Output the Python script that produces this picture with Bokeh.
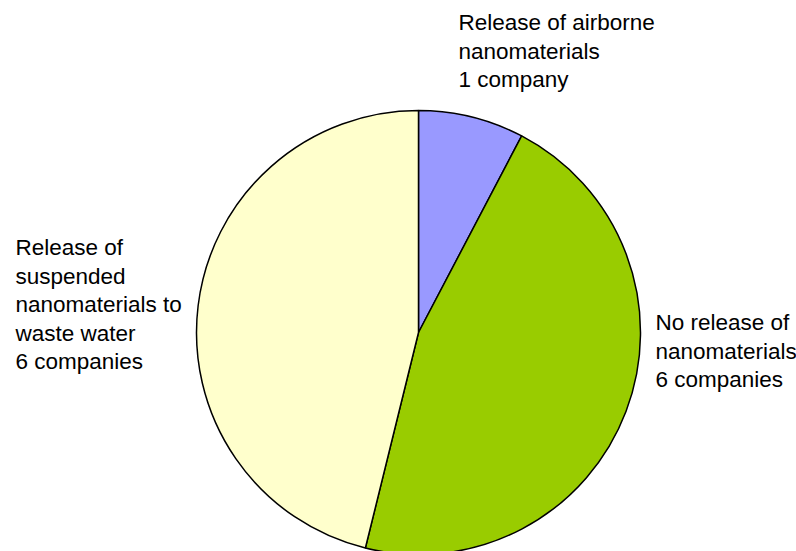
import math
from bokeh.plotting import figure
from bokeh.models import ColumnDataSource, Range1d
from bokeh.core.properties import value
from bokeh.embed import file_html
from bokeh.resources import INLINE

# Data
categories = ["Release of airborne nanomaterials",
              "No release of nanomaterials",
              "Release of suspended nanomaterials to waste water"]
values = [1, 6, 6]
colors = ["#9999FF", "#99CC00", "#FFFFCC"]
label_lines = [
    ["Release of airborne", "nanomaterials", "1 company"],
    ["No release of", "nanomaterials", "6 companies"],
    ["Release of", "suspended", "nanomaterials to", "waste water", "6 companies"],
]

W, H = 796, 551
p = figure(width=W, height=H, output_backend="svg", toolbar_location=None,
           x_range=Range1d(0, W), y_range=Range1d(0, H), min_border=0)
p.axis.visible = False
p.grid.visible = False
p.outline_line_color = None
p.background_fill_color = "white"
p.border_fill_color = "white"

def px(x):
    return x

def py(y):
    return H - y

total = sum(values)
starts, ends = [], []
cum = 0
for v in values:
    starts.append(math.pi / 2 - 2 * math.pi * cum / total)
    cum += v
    ends.append(math.pi / 2 - 2 * math.pi * cum / total)

src = ColumnDataSource(dict(start=starts, end=ends, color=colors, cat=categories))
p.wedge(x=px(418), y=py(332), radius=222, start_angle="start", end_angle="end",
        direction="clock", fill_color="color", line_color="black", line_width=1.5,
        source=src)

# label anchor positions (page pixels: left x, first baseline y)
anchors = [(458, 22), (655, 322), (15, 247)]
spacing = 28.5
tx, ty, tt = [], [], []
for (ax, ay), lines in zip(anchors, label_lines):
    for i, line in enumerate(lines):
        tx.append(px(ax))
        ty.append(py(ay + i * spacing))
        tt.append(line)

p.text(x=tx, y=ty, text=tt, text_font=value("Liberation Sans"),
       text_font_size="22.5px", text_color="black",
       text_baseline="alphabetic", text_align="left")

open("out.html", "w").write(file_html(p, INLINE))
